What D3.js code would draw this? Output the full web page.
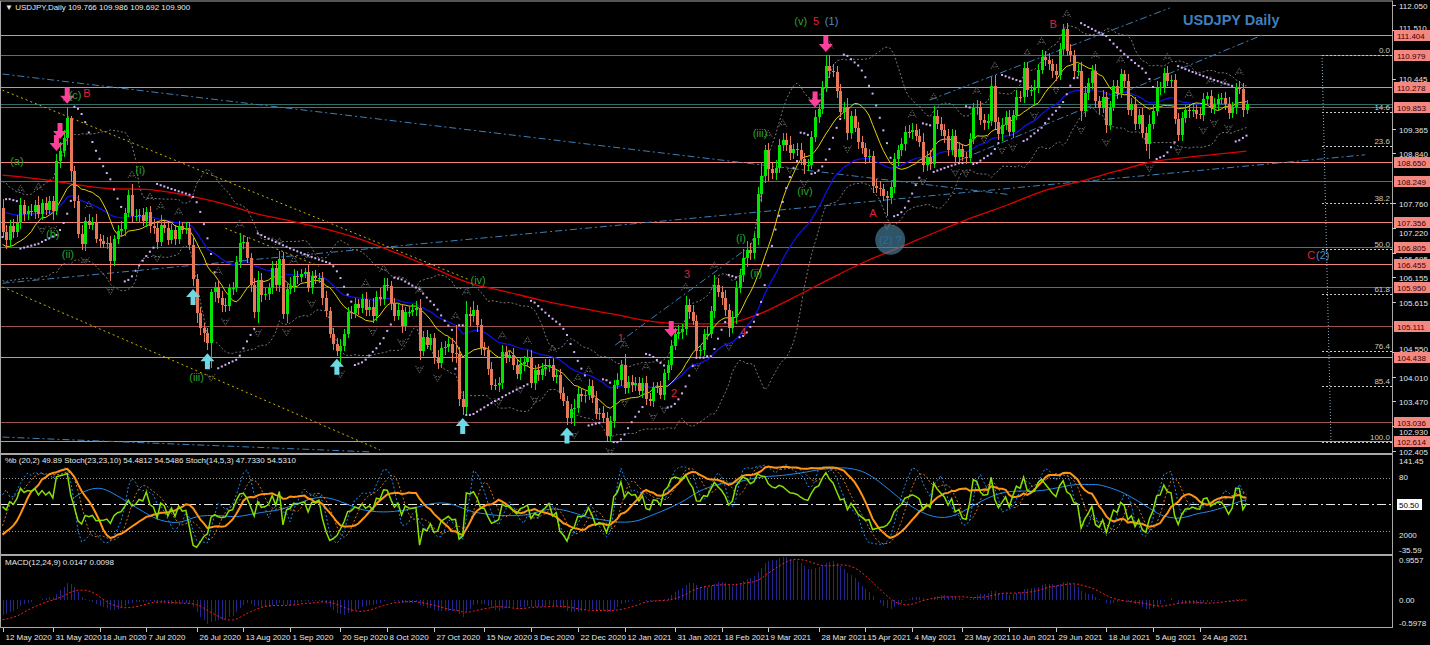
<!DOCTYPE html>
<html><head><meta charset="utf-8">
<script src="https://cdn.jsdelivr.net/npm/d3@7"></script>
<style>
html,body{margin:0;padding:0;background:#000;overflow:hidden}
svg text{font-family:"Liberation Sans",Arial,sans-serif}
</style></head><body>
<svg id="c" width="1430" height="645"></svg>
<script>
// ---------------- DATA ----------------
const startDate = "2020-05-12";
const holidays = ["2020-12-25", "2021-01-01"];
// closes before the visible window (warm-up for the indicators)
const priorCloses = [109.60,107.92,107.78,107.54,107.17,107.88,108.48,109.25,108.80,108.79,108.47,108.45,107.72,107.19,107.51,107.93,107.54,107.73,107.78,107.77,107.62,107.51,107.26,106.89,106.61,107.16,106.87,106.71,106.52,106.08,106.31,106.61,107.65];
const closes = [
 107.13,106.96,107.27,107.14,107.33,107.72,107.53,107.60,107.58,107.72,107.53,107.76,107.62,107.80,
 107.60,108.68,108.89,109.17,109.60,108.45,107.80,107.10,106.87,107.37,107.30,107.34,106.99,106.95,106.89,106.90,106.52,106.98,107.16,107.20,107.56,107.93,
 107.48,107.48,107.51,107.37,107.58,107.27,107.22,106.93,107.30,107.23,106.97,107.18,106.99,107.26,107.19,107.22,106.86,106.12,105.38,105.07,104.95,104.73,105.83,
 105.94,105.72,105.56,105.54,105.92,105.93,106.48,106.91,106.92,106.58,106.00,105.41,106.11,105.78,105.80,105.92,106.37,106.00,106.55,105.37,105.90,
 105.97,106.18,106.17,106.23,106.27,105.93,106.18,106.14,106.15,105.71,105.42,104.94,104.71,104.56,104.68,104.94,105.40,105.39,105.58,105.49,105.68,105.45,
 105.52,105.32,105.74,105.68,106.00,105.96,105.60,105.33,105.46,105.10,105.41,105.41,105.45,105.50,104.57,104.87,104.70,104.84,104.43,104.30,104.62,104.66,
 104.72,104.52,104.50,103.52,103.36,105.37,105.31,105.44,105.12,104.63,104.58,104.18,103.83,103.82,103.86,104.55,104.44,104.48,104.25,104.07,104.28,
 104.33,104.44,103.86,104.16,104.04,104.17,104.22,104.27,104.01,104.05,103.65,103.48,103.11,103.30,103.32,103.63,103.58,103.60,103.81,103.55,103.20,103.23,
 103.12,102.72,103.04,103.83,103.94,104.25,103.76,103.90,103.82,103.87,103.70,103.88,103.52,103.48,103.78,103.77,103.62,104.08,104.25,104.68,
 104.94,104.98,105.04,105.55,105.40,105.22,104.57,104.59,104.93,104.94,105.42,105.99,105.85,105.70,105.45,105.06,105.29,105.93,106.21,106.58,
 106.75,106.68,107.00,107.97,108.35,108.91,108.50,108.41,108.52,109.03,109.14,109.02,108.84,108.93,108.92,108.72,108.60,108.60,109.20,109.63,109.80,110.28,110.73,
 110.63,110.61,110.19,109.74,109.84,109.28,109.66,109.40,109.08,108.95,108.77,108.78,108.13,108.10,108.06,107.92,107.88,108.11,108.71,108.91,109.04,109.31,
 109.30,109.35,109.22,109.09,108.59,108.77,108.62,109.66,109.48,109.35,109.22,108.91,109.22,108.77,108.93,108.77,108.75,109.15,109.82,109.85,109.57,
 109.49,109.54,110.29,109.51,109.25,109.46,109.63,109.31,109.68,110.07,110.06,110.69,110.21,110.21,110.27,110.65,110.93,110.87,110.77,110.63,110.53,111.10,
 111.53,111.05,110.97,110.63,110.63,109.75,110.14,110.36,110.62,109.97,109.82,110.07,109.46,109.85,110.29,110.15,110.55,110.41,109.79,109.91,109.47,109.68,
 109.29,109.05,109.48,109.75,110.25,110.27,110.59,110.41,110.42,109.59,109.24,109.60,109.77,109.75,109.79,109.70,109.68,110.02,110.08,109.82,109.92,110.02,
 110.03,109.92,109.71,109.84,110.27,110.24,109.77,109.90];
// upper / lower shadow beyond the body, in hundredths of a yen
const highWick = [
 20,15,12,14,18,15,12,10,14,12,20,10,14,12,
 12,15,20,18,25,5,12,14,20,10,15,12,18,10,12,14,15,10,12,18,10,12,
 25,15,12,14,10,12,15,12,20,10,12,14,10,12,10,14,12,15,12,14,10,12,8,
 12,15,15,14,10,12,14,20,15,12,10,15,18,14,12,12,15,14,18,15,12,
 20,15,12,10,8,15,12,14,10,12,15,10,12,14,15,10,12,14,12,10,12,15,
 15,20,12,18,15,14,12,10,14,12,10,12,14,15,18,12,14,10,12,15,14,12,
 15,12,60,15,18,28,15,20,12,14,12,10,15,12,14,15,12,10,14,12,15,
 12,15,14,10,12,14,18,12,14,10,12,14,10,12,20,15,12,10,14,12,15,10,
 15,12,12,10,15,12,25,12,15,14,12,10,15,14,12,12,15,10,12,12,
 12,15,10,20,14,15,12,10,12,14,12,22,15,12,18,12,14,15,12,20,
 20,15,12,14,30,12,15,14,18,12,15,14,20,12,14,15,14,12,12,14,12,12,24,
 25,15,12,15,12,20,10,15,12,14,12,15,12,15,14,12,10,12,15,12,14,12,
 15,14,12,15,20,12,14,20,12,14,12,15,14,12,15,12,10,14,12,15,12,
 12,15,20,25,12,14,12,15,10,14,12,12,13,12,15,12,14,12,15,12,14,12,
 12,13,15,12,14,20,15,12,14,15,12,14,10,12,15,14,12,10,14,12,15,12,
 15,12,20,14,15,12,10,14,12,15,12,14,12,15,12,10,14,12,10,14,12,10,
 12,14,15,12,10,14,12,9];
const lowWick = [
 10,18,15,12,10,12,15,14,10,16,8,14,12,10,
 20,10,15,12,15,20,15,10,12,15,10,12,8,15,10,12,45,12,10,12,15,10,
 12,10,14,10,12,15,12,15,10,12,12,10,14,12,10,10,12,15,20,15,20,15,54,
 20,12,15,14,12,15,10,12,14,12,15,14,25,15,12,14,12,14,15,12,20,
 10,12,15,12,8,10,14,12,10,15,12,10,12,10,30,12,10,14,12,15,10,12,
 12,14,10,15,12,10,14,12,10,15,10,12,10,12,20,12,10,12,14,12,10,15,
 12,20,20,15,18,16,20,12,14,15,12,14,12,10,15,12,14,12,10,12,14,
 14,12,10,15,12,10,14,12,10,15,12,10,14,12,35,10,12,14,10,12,10,12,
 12,11,13,15,10,14,12,10,14,12,10,15,12,10,14,12,10,12,15,10,
 10,12,15,12,14,10,15,12,14,12,10,15,12,14,12,20,10,14,12,15,
 20,15,12,14,18,15,25,12,14,10,14,12,15,12,14,12,20,15,10,12,14,10,12,
 15,12,14,12,15,14,12,10,14,12,15,12,14,12,15,12,40,14,12,15,12,14,
 12,14,12,10,15,12,14,10,12,14,15,12,10,14,12,10,14,12,10,15,12,
 14,12,10,15,12,14,12,10,14,12,10,12,15,12,35,12,10,14,12,15,12,10,
 12,10,14,15,12,20,12,15,12,14,12,10,18,12,10,14,12,15,12,14,12,10,
 12,15,33,12,10,14,12,10,15,12,14,12,10,14,12,12,10,14,12,10,12,14,
 10,14,12,10,15,12,14,7];
// 200-period MA, one value every 10 bars (+ last bar)
const ma200Step = 10;
const ma200 = [108.37,108.29,108.17,108.08,108.06,107.95,107.78,107.55,107.38,107.20,106.97,106.67,106.35,106.03,105.85,105.66,105.50,105.36,105.21,105.15,105.15,105.35,105.72,106.12,106.50,106.82,107.15,107.46,107.74,108.04,108.24,108.46,108.66,108.76,108.84,108.89];

const dateLabels = ["12 May 2020","31 May 2020","18 Jun 2020","7 Jul 2020","26 Jul 2020","13 Aug 2020","1 Sep 2020","20 Sep 2020","8 Oct 2020","27 Oct 2020","15 Nov 2020","3 Dec 2020","22 Dec 2020","12 Jan 2021","31 Jan 2021","18 Feb 2021","9 Mar 2021","28 Mar 2021","15 Apr 2021","4 May 2021","23 May 2021","10 Jun 2021","29 Jun 2021","18 Jul 2021","5 Aug 2021","24 Aug 2021"];
const priceTicks = [112.050,111.510,110.445,109.365,108.840,107.760,107.220,106.695,106.155,105.615,104.550,104.010,103.470,102.930,102.405];
const levelPrices = [111.404,110.979,110.278,109.853,108.650,108.249,107.356,106.805,106.455,105.950,105.111,104.438,103.036,102.614];
const darkLevels = [110.979,109.853,108.249,106.805,105.950,105.111,103.036];
const bidPrice = 109.900;
const fibHigh = 110.97, fibLow = 102.59;
const fibLevels = [0.0,14.6,23.6,38.2,50.0,61.8,76.4,85.4,100.0];
const oscRange = [-35.59, 141.45];
const oscLevels = [80, 50.5, 20];
const macdRange = [-0.5978, 0.9557];

// Elliott-wave annotations: [text, bar, price, kind]
const waveLabels = [
 ["(v)",222,111.71,"g"],["5",226.3,111.71,"r"],["(1)",230.6,111.71,"b"],
 ["B",292.2,111.64,"r"],["(c)",20.2,110.10,"g"],["B",23.5,110.15,"r"],
 ["(a)",4,108.68,"g"],["(i)",38.3,108.48,"g"],["(b)",14,107.10,"g"],["(ii)",18.2,106.66,"g"],
 ["(iii)",54,104.0,"g"],["(iv)",132.3,106.10,"g"],
 ["1",172,104.84,"r"],["2",186.8,103.65,"r"],["3",190.4,106.23,"r"],["4",206,104.97,"r"],
 ["(i)",205.4,107.01,"g"],["(ii)",209.6,106.25,"g"],["(iii)",210.7,109.28,"g"],["(iv)",223.2,108.03,"g"],
 ["A",242.1,107.55,"r"],["C",364,106.64,"r"],["(2)",367.2,106.64,"b"]];
const circleNote = ["(2) ?", 246.9, 106.97];
// signal arrows: bar index
const sellArrows = [15,16,18,186,226,229];
const buyArrows = [53,57,93,128,157];
// trend lines: [bar1, price1, bar2, price2]
const blueLines = [[0,110.56,280,107.95],[0,106.03,379,108.81],[0,102.70,102,102.38],
 [258,110.00,324.7,111.99],[266.3,108.70,350.3,111.40],[170.4,104.69,206.5,106.75]];
const yellowLines = [[0,110.21,130,106.10],[0,105.95,105,102.42],[62,107.22,88,106.40]];

// ---------------- HELPERS ----------------
const N = closes.length, P = priorCloses.length;
const opens = closes.map((c,i)=> i===0 ? priorCloses[P-1] : closes[i-1]);
const highs = closes.map((c,i)=> Math.max(opens[i],c) + highWick[i]/100);
const lows  = closes.map((c,i)=> Math.min(opens[i],c) - lowWick[i]/100);
const pOpen = priorCloses.map((c,i)=> i===0 ? c : priorCloses[i-1]);
const allC = priorCloses.concat(closes);
const allH = priorCloses.map((c,i)=>Math.max(c,pOpen[i])).concat(highs);
const allL = priorCloses.map((c,i)=>Math.min(c,pOpen[i])).concat(lows);

function sma(a,n){return a.map((_,i)=>{if(i<n-1)return null;let s=0;for(let j=i-n+1;j<=i;j++){if(a[j]==null)return null;s+=a[j];}return s/n;});}
function ema(a,n){const k=2/(n+1);let e=null;return a.map(v=>{e=(e==null)?v:v*k+e*(1-k);return e;});}
function stoch(Hh,Ll,C,K,D,S){
  const main=C.map((_,i)=>{if(i<K-1+S-1)return null;let sn=0,sd=0;
    for(let j=i-S+1;j<=i;j++){let hh=-1e9,ll=1e9;for(let k=j-K+1;k<=j;k++){hh=Math.max(hh,Hh[k]);ll=Math.min(ll,Ll[k]);}sn+=C[j]-ll;sd+=hh-ll;}
    return sd>0?100*sn/sd:100;});
  return {main, sig: sma(main,D)};
}
function bands(C,n,d){const m=sma(C,n);return C.map((_,i)=>{if(m[i]==null)return null;let s=0;for(let j=i-n+1;j<=i;j++)s+=(C[j]-m[i])**2;const sd=Math.sqrt(s/n);return {mid:m[i],up:m[i]+d*sd,lo:m[i]-d*sd};});}
const tail = a => a.slice(P);

const maFast = tail(sma(allC,13));
const maMid  = tail(ema(allC,34));
const bb = tail(bands(allC,20,2));
const bbPct = tail(bands(allC,20,2).map((b,i)=> b==null?null:(allC[i]-b.lo)/(b.up-b.lo)*100));
const st1 = stoch(allH,allL,allC,23,23,10);
const st2 = stoch(allH,allL,allC,14,5,3);
const s1m = tail(st1.main), s1s = tail(st1.sig), s2m = tail(st2.main), s2s = tail(st2.sig);
const e12 = ema(allC,12), e24 = ema(allC,24);
const macdAll = e12.map((v,i)=>v-e24[i]);
const macd = tail(macdAll), macdSig = tail(sma(macdAll,9));

// parabolic SAR
const sar = (function(){const out=[];let up=true,af=0.02,ep=highs[0],s=lows[0];out.push(s);
  for(let i=1;i<N;i++){s=s+af*(ep-s);
    if(up){s=Math.min(s,lows[i-1],lows[Math.max(0,i-2)]);
      if(lows[i]<s){up=false;s=ep;ep=lows[i];af=0.02;} else if(highs[i]>ep){ep=highs[i];af=Math.min(af+0.02,0.2);} }
    else{s=Math.max(s,highs[i-1],highs[Math.max(0,i-2)]);
      if(highs[i]>s){up=true;s=ep;ep=highs[i];af=0.02;} else if(lows[i]<ep){ep=lows[i];af=Math.min(af+0.02,0.2);} }
    out.push(s);}return out;})();

// fractals
const fracUp=[],fracDn=[];
for(let i=2;i<N-2;i++){
  if(highs[i]>highs[i-1]&&highs[i]>highs[i-2]&&highs[i]>=highs[i+1]&&highs[i]>=highs[i+2])fracUp.push(i);
  if(lows[i]<lows[i-1]&&lows[i]<lows[i-2]&&lows[i]<=lows[i+1]&&lows[i]<=lows[i+2])fracDn.push(i);
}

// trading dates
const parseISO=d3.timeParse("%Y-%m-%d"), fmtISO=d3.timeFormat("%Y-%m-%d");
const dates=[];{let d=parseISO(startDate);while(dates.length<N){const wd=d.getDay();if(wd!==0&&wd!==6&&!holidays.includes(fmtISO(d)))dates.push(new Date(d));d=d3.timeDay.offset(d,1);}}
const parseLbl=d3.timeParse("%d %b %Y");

// ---------------- LAYOUT ----------------
const svg=d3.select("#c");
const R=1392;
const mainY=[1,453], oscY=[454,554], macdY=[555,627];
const x=d3.scaleLinear().domain([0,N-1]).range([2.5,1246.5]);
const y=d3.scaleLinear().domain([102.355,112.140]).range([453,1]);
const yPct=d3.scaleLinear().domain(oscRange).range([549,460]);
const yStoch=d3.scaleLinear().domain([0,100]).range([548.3,460.7]);
const yMacd=d3.scaleLinear().domain(macdRange).range([627,557]);

svg.append("rect").attr("width",1430).attr("height",645).attr("fill","#000");
const defs=svg.append("defs");
defs.append("clipPath").attr("id","cm").append("rect").attr("x",0).attr("y",mainY[0]).attr("width",R).attr("height",mainY[1]-mainY[0]);
defs.append("clipPath").attr("id","co").append("rect").attr("x",0).attr("y",oscY[0]+1).attr("width",R).attr("height",oscY[1]-oscY[0]-1);
defs.append("clipPath").attr("id","cd").append("rect").attr("x",0).attr("y",macdY[0]+1).attr("width",R).attr("height",macdY[1]-macdY[0]-1);

const gM=svg.append("g").attr("clip-path","url(#cm)");
const gO=svg.append("g").attr("clip-path","url(#co)");
const gD=svg.append("g").attr("clip-path","url(#cd)");

// horizontal levels
gM.selectAll(".lvl").data(levelPrices).join("line")
 .attr("x1",0).attr("x2",R).attr("y1",d=>Math.round(y(d))+0.5).attr("y2",d=>Math.round(y(d))+0.5)
 .attr("stroke",d=>darkLevels.includes(d)?"#9b5450":"#f0857d").attr("stroke-width",1);
gM.append("line").attr("x1",0).attr("x2",R).attr("y1",Math.round(y(bidPrice))+0.5).attr("y2",Math.round(y(bidPrice))+0.5).attr("stroke","#2f6e66");

// trend lines
const tl=(g,arr,col,dash)=>g.selectAll(null).data(arr).join("line")
 .attr("x1",d=>x(d[0])).attr("y1",d=>y(d[1])).attr("x2",d=>x(d[2])).attr("y2",d=>y(d[3]))
 .attr("stroke",col).attr("stroke-width",1).attr("stroke-dasharray",dash);
tl(gM,blueLines,"#3f7fb8","7,3,2,3");
tl(gM,yellowLines,"#c8b400","2,3");

// bollinger
["up","lo"].forEach(k=>{
 gM.append("path").datum(bb).attr("d",d3.line().defined(d=>d!=null).x((d,i)=>x(i)).y(d=>y(d[k])))
  .attr("fill","none").attr("stroke","#7a7a7a").attr("stroke-dasharray","2,2");
});

// MAs
gM.append("path").datum(ma200).attr("d",d3.line().curve(d3.curveMonotoneX).x((d,i)=>x(Math.min(i*ma200Step,N-1))).y(d=>y(d)))
 .attr("fill","none").attr("stroke","#e00000").attr("stroke-width",1.3);
gM.append("path").datum(maMid).attr("d",d3.line().x((d,i)=>x(i)).y(d=>y(d))).attr("fill","none").attr("stroke","#1010f0").attr("stroke-width",1.2);
gM.append("path").datum(maFast).attr("d",d3.line().defined(d=>d!=null).x((d,i)=>x(i)).y(d=>y(d))).attr("fill","none").attr("stroke","#e6d400").attr("stroke-width",1);

// candles
const bull="#00e600", bear="#e8785a";
const cg=gM.append("g").attr("shape-rendering","crispEdges");
cg.selectAll(".w").data(closes).join("rect")
 .attr("x",(d,i)=>Math.round(x(i))).attr("width",1)
 .attr("y",(d,i)=>y(highs[i])).attr("height",(d,i)=>Math.max(1,y(lows[i])-y(highs[i])))
 .attr("fill",(d,i)=>d>=opens[i]?bull:bear);
cg.selectAll(".b").data(closes).join("rect")
 .attr("x",(d,i)=>Math.round(x(i))-1).attr("width",3)
 .attr("y",(d,i)=>y(Math.max(d,opens[i]))).attr("height",(d,i)=>Math.max(1,Math.abs(y(d)-y(opens[i]))))
 .attr("fill",(d,i)=>d>=opens[i]?bull:bear);

// SAR
gM.append("g").selectAll("rect").data(sar).join("rect")
 .attr("x",(d,i)=>x(i)-1).attr("y",d=>y(d)-1).attr("width",2).attr("height",2).attr("fill","#d4b0ff");

// fractals
gM.append("g").selectAll("path").data(fracUp).join("path")
 .attr("transform",i=>`translate(${x(i)},${y(highs[i])-9})`).attr("d","M-4,3L0,-4L4,3M-2,1H2")
 .attr("fill","none").attr("stroke","#6c6c6c").attr("stroke-dasharray","1.5,1");
gM.append("g").selectAll("path").data(fracDn).join("path")
 .attr("transform",i=>`translate(${x(i)},${y(lows[i])+9})`).attr("d","M-4,-3L0,4L4,-3M-2,-1H2")
 .attr("fill","none").attr("stroke","#6c6c6c").attr("stroke-dasharray","1.5,1");

// arrows
const arrowD="M-2.5,-9H2.5V-1H7L0,7L-7,-1H-2.5Z";
gM.append("g").selectAll("path").data(sellArrows).join("path")
 .attr("transform",i=>`translate(${x(i)},${y(highs[i])-10})`).attr("d",arrowD).attr("fill","#ff3f9a");
gM.append("g").selectAll("path").data(buyArrows).join("path")
 .attr("transform",i=>`translate(${x(i)},${y(lows[i])+10}) rotate(180)`).attr("d",arrowD).attr("fill","#6ed8e4");

// fibonacci
const fibStart=367;
const fy=l=>y(fibHigh-(fibHigh-fibLow)*l/100);
gM.selectAll(".fib").data(fibLevels).join("line")
 .attr("x1",x(fibStart)).attr("x2",R).attr("y1",d=>Math.round(fy(d))+0.5).attr("y2",d=>Math.round(fy(d))+0.5)
 .attr("stroke","#c8c8c8").attr("stroke-dasharray","2,2");
gM.append("line").attr("x1",x(fibStart)).attr("y1",y(fibHigh)).attr("x2",x(fibStart+2.5)).attr("y2",y(fibLow))
 .attr("stroke","#8fb0c8").attr("stroke-dasharray","1,2");
gM.selectAll(".fibt").data(fibLevels).join("text")
 .attr("x",R-2).attr("y",d=>fy(d)-2).attr("text-anchor","end").attr("fill","#c8c8c8").attr("font-size",8)
 .text(d=>d.toFixed(1));

// wave labels
const waveCol={g:"#2aa52a",r:"#e0203c",b:"#4a8cc8"};
gM.append("circle").attr("cx",x(circleNote[1])).attr("cy",y(circleNote[2])).attr("r",15).attr("fill","#4f8ca8").attr("opacity",0.6);
gM.append("text").attr("x",x(circleNote[1])).attr("y",y(circleNote[2])+4).attr("text-anchor","middle").attr("font-size",11).attr("fill","#2f6a98").text(circleNote[0]);
gM.selectAll(".wl").data(waveLabels).join("text")
 .attr("x",d=>x(d[1])).attr("y",d=>y(d[2])+4).attr("text-anchor","middle").attr("font-size",11)
 .attr("fill",d=>waveCol[d[3]]).text(d=>d[0]);

gM.append("text").attr("x",1183).attr("y",25).attr("font-size",14.5).attr("font-weight","bold").attr("fill","#3f7fbd").text("USDJPY Daily");
gM.append("text").attr("x",5).attr("y",10).attr("font-size",8).attr("fill","#e8e8e8").text("\u25BC USDJPY,Daily  109.766 109.986 109.692 109.900");

// ---- oscillator panel ----
gO.append("line").attr("x1",0).attr("x2",R).attr("y1",Math.round(yStoch(80))+0.5).attr("y2",Math.round(yStoch(80))+0.5).attr("stroke","#9a9a9a").attr("stroke-dasharray","1,2");
gO.append("line").attr("x1",0).attr("x2",R).attr("y1",Math.round(yStoch(20))+0.5).attr("y2",Math.round(yStoch(20))+0.5).attr("stroke","#9a9a9a").attr("stroke-dasharray","1,2");
gO.append("line").attr("x1",0).attr("x2",R).attr("y1",Math.round(yStoch(50.5))+0.5).attr("y2",Math.round(yStoch(50.5))+0.5).attr("stroke","#e8e8e8").attr("stroke-dasharray","9,3,2,3");
const ol=(arr,ys,col,w,dash)=>gO.append("path").datum(arr).attr("d",d3.line().defined(d=>d!=null).x((d,i)=>x(i)).y(d=>ys(d)))
 .attr("fill","none").attr("stroke",col).attr("stroke-width",w).attr("stroke-dasharray",dash||null);
ol(s1s,yStoch,"#1e8cf0",1);
ol(s2m,yStoch,"#1e8cf0",1,"2,2");
ol(s2s,yStoch,"#d2761e",1,"2,2");
ol(s1m,yStoch,"#ff9412",2);
ol(bbPct,yPct,"#88e000",1.5);
gO.append("text").attr("x",5).attr("y",oscY[0]+9).attr("font-size",8).attr("fill","#e8e8e8")
 .text("%b (20,2) 49.89  Stoch(23,23,10) 54.4812 54.5486  Stoch(14,5,3) 47.7330 54.5310");

// ---- MACD panel ----
gD.append("g").attr("shape-rendering","crispEdges").selectAll("rect").data(macd).join("rect")
 .attr("x",(d,i)=>Math.round(x(i))).attr("width",1)
 .attr("y",d=>Math.min(yMacd(d),yMacd(0))).attr("height",d=>Math.abs(yMacd(d)-yMacd(0)))
 .attr("fill","#25258e");
gD.append("path").datum(macdSig).attr("d",d3.line().defined(d=>d!=null).x((d,i)=>x(i)).y(d=>yMacd(d)))
 .attr("fill","none").attr("stroke","#ff2020").attr("stroke-dasharray","2,2");
gD.append("text").attr("x",5).attr("y",macdY[0]+10).attr("font-size",8).attr("fill","#e8e8e8").text("MACD(12,24,9) 0.0147 0.0098");

// ---- frames ----
[[mainY[0]-0.5,mainY[1]],[oscY[0],oscY[1]],[macdY[0],macdY[1]]].forEach(p=>{
 svg.append("rect").attr("x",0.5).attr("y",p[0]+0.5).attr("width",R).attr("height",p[1]-p[0]).attr("fill","none").attr("stroke","#a8a8a8");
});

// ---- right axis ----
const ax=svg.append("g").attr("font-size",8).attr("fill","#e6e6e6");
// small vertical nudges keep tick texts clear of the level boxes
const tickNudge={111.51:-3,110.445:-1,107.22:4,106.695:5,104.55:-4,102.93:5};
ax.selectAll(".pt").data(priceTicks).join("g").each(function(d){
 const g=d3.select(this),yy=Math.round(y(d))+0.5;
 g.append("line").attr("x1",R).attr("x2",R+4).attr("y1",yy).attr("y2",yy).attr("stroke","#c8c8c8");
 g.append("text").attr("x",R+7).attr("y",yy+3+(tickNudge[d]||0)).attr("fill","#e6e6e6").text(d3.format(".3f")(d));
});
ax.selectAll(".lb").data(levelPrices).join("g").each(function(d){
 const g=d3.select(this),yy=Math.round(y(d));
 g.append("rect").attr("x",R+2).attr("y",yy-5).attr("width",36).attr("height",11).attr("fill","#f28880");
 g.append("text").attr("x",R+5).attr("y",yy+4).attr("fill","#3a0000").text(d3.format(".3f")(d));
});
const oscLbl=[["141.45",461],["80",477],["2000",535],["-35.59",550]];
ax.selectAll(".ol").data(oscLbl).join("text").attr("x",R+7).attr("y",d=>d[1]+3).text(d=>d[0]);
ax.append("rect").attr("x",R+5).attr("y",Math.round(yStoch(50.5))-5).attr("width",25).attr("height",11).attr("fill","#fff");
ax.append("text").attr("x",R+7).attr("y",Math.round(yStoch(50.5))+4).attr("fill","#000").text("50.50");
const mLbl=[[macdRange[1],"0.9557"],[0,"0.00"],[macdRange[0],"-0.5978"]];
ax.selectAll(".ml").data(mLbl).join("text").attr("x",R+7).attr("y",(d,i)=>i===0?yMacd(d[0])+6:i===2?yMacd(d[0])-1:yMacd(d[0])+3).text(d=>d[1]);

// ---- bottom axis ----
const bx=svg.append("g");
dateLabels.forEach(lbl=>{
 const dt=parseLbl(lbl); let idx=dates.findIndex(d=>d>=dt); if(idx<0)idx=N-1;
 const xx=Math.round(x(idx))+0.5;
 bx.append("line").attr("x1",xx).attr("x2",xx).attr("y1",macdY[1]+1).attr("y2",macdY[1]+5).attr("stroke","#c8c8c8");
 bx.append("text").attr("x",xx+2).attr("y",640).attr("font-size",8).attr("fill","#e6e6e6").text(lbl);
});
</script></body></html>
